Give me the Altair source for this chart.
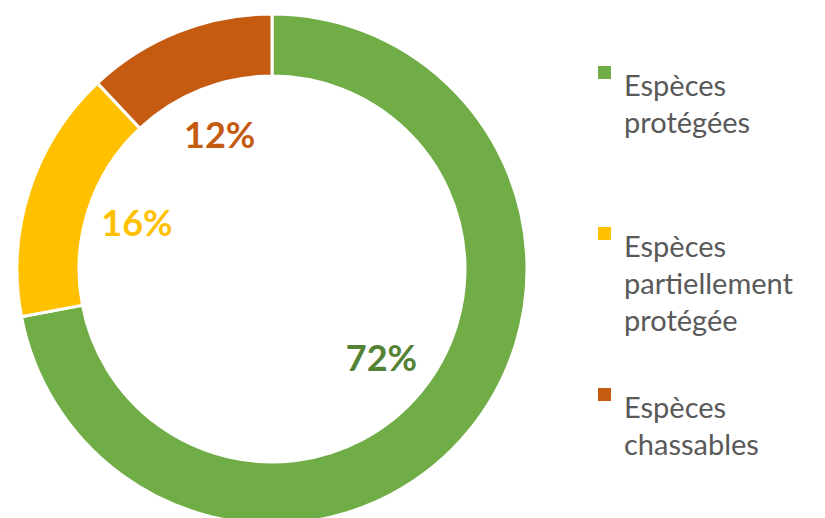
import altair as alt
import pandas as pd

categories = ["Espèces protégées", "Espèces partiellement protégée", "Espèces chassables"]
legend_labels = ["Espèces|protégées|", "Espèces|partiellement|protégée", "Espèces|chassables|"]
values = [72, 16, 12]
labels = ["72%", "16%", "12%"]
colors = ["#70AD47", "#FFC000", "#C55A11"]
label_colors = ["#548235", "#FFC000", "#C55A11"]

df = pd.DataFrame({
    "cat": legend_labels,
    "value": values,
    "label": labels,
    "order": [0, 1, 2],
    "lcolor": label_colors,
})

base = alt.Chart(df).encode(
    theta=alt.Theta("value:Q", stack=True),
    order=alt.Order("order:Q"),
)

arcs = base.mark_arc(outerRadius=255, innerRadius=193, stroke="white", strokeWidth=3).encode(
    color=alt.Color(
        "cat:N",
        sort=legend_labels,
        scale=alt.Scale(domain=legend_labels, range=colors),
        legend=alt.Legend(
            title=None,
            orient="none",
            legendX=582,
            legendY=49,
            labelExpr="split(datum.label, '|')",
            labelFont="Lato",
            labelFontSize=29,
            labelColor="#595959",
            labelLimit=300,
            labelOffset=5,
            labelBaseline="top",
            symbolType="square",
            symbolSize=169,
            symbolStrokeWidth=0,
            rowPadding=43,
        ),
    ),
)

texts = base.mark_text(radius=142, font="Lato", fontSize=36, fontWeight="bold").encode(
    text="label:N",
    color=alt.Color("lcolor:N", scale=None),
)

chart = (arcs + texts).properties(
    width=528, height=520, padding=0
).configure(style={"guide-label": {"lineHeight": 37}}).configure_view(stroke=None)

chart.save("out.html", embed_options={"renderer": "svg", "actions": False})
